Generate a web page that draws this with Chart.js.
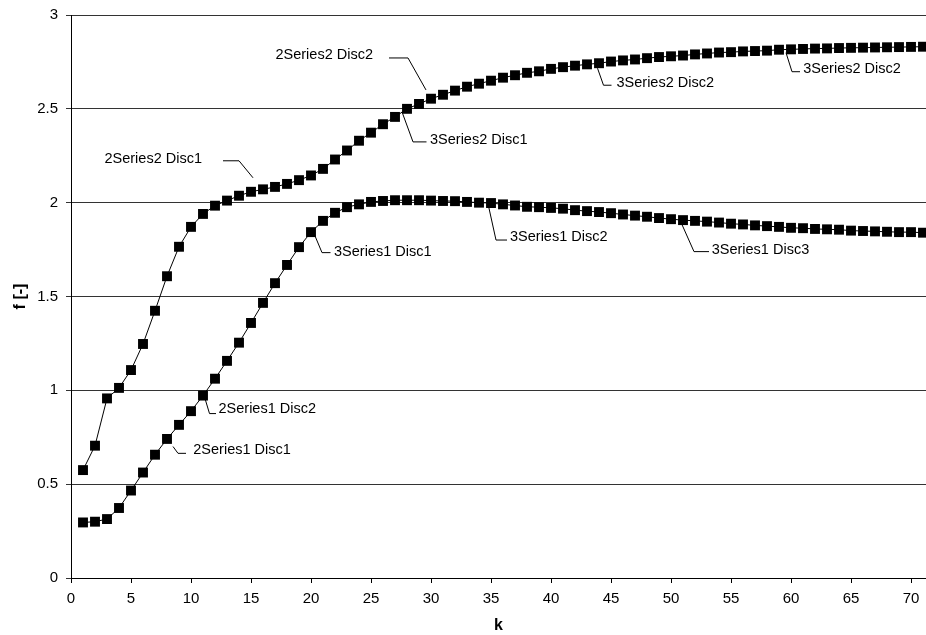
<!DOCTYPE html>
<html>
<head>
<meta charset="utf-8">
<script src="https://cdn.jsdelivr.net/npm/chart.js@4.4.1/dist/chart.umd.min.js"></script>
<style>
  html, body { margin: 0; padding: 0; background: #fff; }
  #wrap { width: 926px; height: 635px; }
</style>
</head>
<body>
<div id="wrap"><canvas id="c" width="926" height="635"></canvas></div>
<script>
// ---- data ----
const kValues = [1,2,3,4,5,6,7,8,9,10,11,12,13,14,15,16,17,18,19,20,21,22,23,24,25,26,27,28,29,30,31,32,33,34,35,36,37,38,39,40,41,42,43,44,45,46,47,48,49,50,51,52,53,54,55,56,57,58,59,60,61,62,63,64,65,66,67,68,69,70,71];
const series1 = [0.296,0.300,0.314,0.373,0.466,0.562,0.657,0.741,0.816,0.889,0.972,1.062,1.157,1.254,1.359,1.466,1.571,1.668,1.763,1.843,1.903,1.946,1.976,1.991,2.004,2.009,2.013,2.013,2.013,2.011,2.009,2.008,2.004,2.000,1.998,1.991,1.985,1.978,1.976,1.972,1.968,1.960,1.955,1.950,1.944,1.937,1.931,1.925,1.918,1.912,1.907,1.903,1.899,1.894,1.888,1.884,1.879,1.875,1.871,1.866,1.864,1.860,1.858,1.856,1.851,1.849,1.847,1.845,1.843,1.843,1.840];
const series2 = [0.575,0.705,0.957,1.013,1.108,1.247,1.424,1.608,1.765,1.871,1.940,1.984,2.011,2.037,2.058,2.071,2.084,2.100,2.120,2.145,2.180,2.230,2.278,2.330,2.373,2.418,2.457,2.500,2.526,2.554,2.575,2.597,2.618,2.634,2.650,2.666,2.679,2.692,2.700,2.713,2.722,2.730,2.737,2.743,2.752,2.758,2.763,2.770,2.776,2.780,2.784,2.790,2.795,2.800,2.802,2.806,2.808,2.810,2.815,2.817,2.819,2.821,2.822,2.824,2.825,2.826,2.827,2.828,2.829,2.830,2.831];
const xTickValues = [0,5,10,15,20,25,30,35,40,45,50,55,60,65,70];
const yTickValues = [0,0.5,1,1.5,2,2.5,3];
const yTickLabels = ['0','0.5','1','1.5','2','2.5','3'];
const xTitle = 'k';
const yTitle = 'f [-]';
// data labels: text, series (0 = series1, 1 = series2), k of the labelled point
const labelTexts = ['2Series2 Disc1','2Series2 Disc2','3Series2 Disc1','3Series2 Disc2','3Series2 Disc2','3Series1 Disc1','3Series1 Disc2','3Series1 Disc3','2Series1 Disc2','2Series1 Disc1'];
const labelSeries = [1,1,1,1,1,0,0,0,0,0];
const labelK = [15,29,27,44,59,20,35,51,11,8];

// ---- label placement (style only): leader polyline offsets and text offset from the point ----
const labelLayout = [
  {leader: [[2,-14],[-12,-31],[-28,-31]], text: [-49,-33], align: 'right'},
  {leader: [[7,-14],[-11,-46],[-30,-46]], text: [-46,-48.5], align: 'right'},
  {leader: [[7,-5],[18,25],[31.5,25]], text: [35,23], align: 'left'},
  {leader: [[-1.5,5],[4.5,22],[12.5,22]], text: [17.5,20], align: 'left'},
  {leader: [[7,3],[13,22],[21,22]], text: [24.3,19], align: 'left'},
  {leader: [[2,-1],[11,20.5],[19.5,20.5]], text: [23,19.6], align: 'left'},
  {leader: [[-2.5,3],[5,37],[16,37]], text: [19,34], align: 'left'},
  {leader: [[-3,0],[11,31.5],[26,31.5]], text: [28.7,30], align: 'left'},
  {leader: [[2,3],[6.5,18],[13,18]], text: [15.5,13.3], align: 'left'},
  {leader: [[6,7.6],[11,14.4],[19,14.4]], text: [26.3,11], align: 'left'}
];

const tickFont = {family: '"Liberation Sans", Arial, sans-serif', size: 15};
const titleFont = {family: '"Liberation Sans", Arial, sans-serif', size: 16, weight: 'bold'};

const toXY = (ys) => kValues.map((k, i) => ({x: k, y: ys[i]}));

const dataLabelPlugin = {
  id: 'dataLabels',
  afterDatasetsDraw(chart) {
    const ctx = chart.ctx;
    const xs = chart.scales.x, ys = chart.scales.y;
    const seriesArr = [series1, series2];
    ctx.save();
    ctx.strokeStyle = '#000';
    ctx.lineWidth = 1;
    ctx.fillStyle = '#000';
    ctx.font = '14.5px "Liberation Sans", Arial, sans-serif';
    ctx.textBaseline = 'middle';
    labelTexts.forEach((t, i) => {
      const k = labelK[i];
      const idx = kValues.indexOf(k);
      const px = xs.getPixelForValue(k);
      const py = ys.getPixelForValue(seriesArr[labelSeries[i]][idx]);
      const L = labelLayout[i];
      ctx.beginPath();
      L.leader.forEach((p, j) => {
        const X = px + p[0], Y = py + p[1];
        if (j === 0) ctx.moveTo(X, Y); else ctx.lineTo(X, Y);
      });
      ctx.stroke();
      ctx.textAlign = L.align;
      ctx.fillText(t, px + L.text[0], py + L.text[1]);
    });
    ctx.restore();
  }
};

new Chart(document.getElementById('c'), {
  type: 'line',
  data: {
    datasets: [
      {label: 'Series1', data: toXY(series1), borderColor: '#000', borderWidth: 1, backgroundColor: '#000',
       pointStyle: 'rect', pointRadius: 7, pointBorderWidth: 0, pointBackgroundColor: '#000', tension: 0, clip: 8},
      {label: 'Series2', data: toXY(series2), borderColor: '#000', borderWidth: 1, backgroundColor: '#000',
       pointStyle: 'rect', pointRadius: 7, pointBorderWidth: 0, pointBackgroundColor: '#000', tension: 0, clip: 8}
    ]
  },
  options: {
    responsive: false,
    animation: false,
    layout: {autoPadding: false, padding: {top: 15, right: 0, left: 0, bottom: 0}},
    plugins: {legend: {display: false}, tooltip: {enabled: false}},
    scales: {
      x: {
        type: 'linear', min: 0, max: 71.25,
        afterFit(s) { s.height = 57; s.paddingLeft = 0; s.paddingRight = 0; },
        afterBuildTicks(s) { s.ticks = xTickValues.map(v => ({value: v})); },
        ticks: {font: tickFont, color: '#000', padding: 7, maxRotation: 0, autoSkip: false,
                callback: (v) => String(v)},
        grid: {drawOnChartArea: false, drawTicks: true, tickLength: 5, color: '#000'},
        border: {color: '#000', width: 1},
        title: {display: true, text: xTitle, font: titleFont, color: '#000', padding: {top: 0, bottom: 0}}
      },
      y: {
        min: 0, max: 3,
        afterFit(s) { s.width = 71; s.paddingTop = 0; s.paddingBottom = 0; },
        afterBuildTicks(s) { s.ticks = yTickValues.map(v => ({value: v})); },
        ticks: {font: tickFont, color: '#000', padding: 8, autoSkip: false,
                callback: (v) => yTickLabels[yTickValues.indexOf(v)]},
        grid: {color: '#333', tickLength: 5, drawTicks: true},
        border: {color: '#000', width: 1},
        title: {display: true, text: yTitle, font: titleFont, color: '#000', padding: {top: 11, bottom: 0}}
      }
    }
  },
  plugins: [dataLabelPlugin]
});
</script>
</body>
</html>
